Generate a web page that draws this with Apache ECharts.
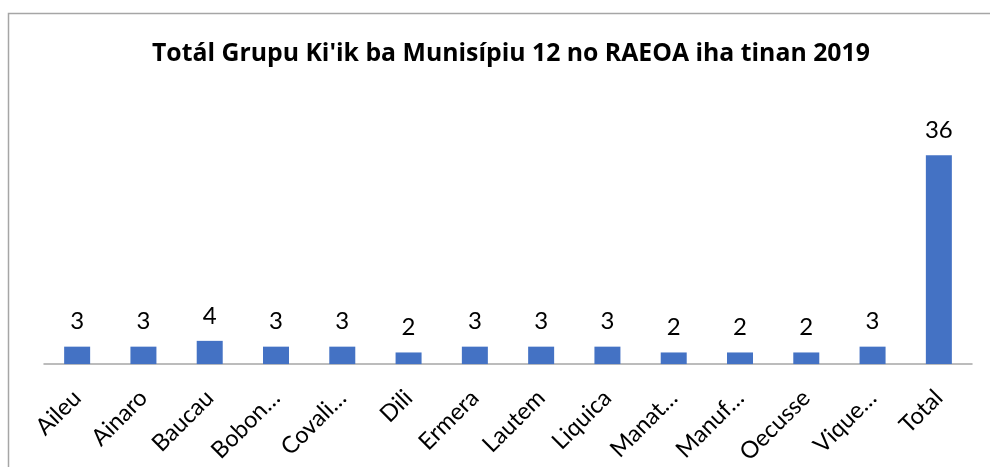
<!DOCTYPE html>
<html><head><meta charset="utf-8">
<script src="https://cdn.jsdelivr.net/npm/echarts@6/dist/echarts.min.js"></script>
<style>html,body{margin:0;padding:0;background:#fff}#c{width:990px;height:467px}</style>
</head><body><div id="c"></div>
<script>
const categories = ["Aileu","Ainaro","Baucau","Bobon…","Covali…","Dili","Ermera","Lautem","Liquica","Manat…","Manuf…","Oecusse","Vique…","Total"];
const values = [3,3,4,3,3,2,3,3,3,2,2,2,3,36];
const titleText = "Totál Grupu Ki'ik ba Munisípiu 12 no RAEOA iha tinan 2019";
const font = "Lato, 'Open Sans', sans-serif";
const chart = echarts.init(document.getElementById('c'), null, {renderer:'canvas'});
chart.setOption({
  animation:false,
  graphic:[{type:'rect', shape:{x:8.5,y:13.5,width:1000,height:500}, style:{fill:'none', stroke:'#a6a6a6', lineWidth:1.5}}],
  title:{text:titleText, left:147, top:36, textStyle:{fontFamily:"'Open Sans', sans-serif", fontWeight:'bold', fontSize:24.8, color:'#000'}},
  grid:{left:44, right:18, top:132, height:233},
  xAxis:{type:'category', data:categories,
    axisLine:{lineStyle:{color:'#a6a6a6', width:1.5}}, axisTick:{show:false},
    axisLabel:{rotate:45, interval:0, fontFamily:font, fontSize:23.5, color:'#000', margin:30}},
  yAxis:{type:'value', min:0, max:40, show:false, splitLine:{show:false}},
  series:[{type:'bar', data:values, barWidth:26, itemStyle:{color:'#4472C4'},
    label:{show:true, position:'top', distance:13, fontFamily:font, fontSize:24, color:'#000'}}]
});
</script></body></html>
